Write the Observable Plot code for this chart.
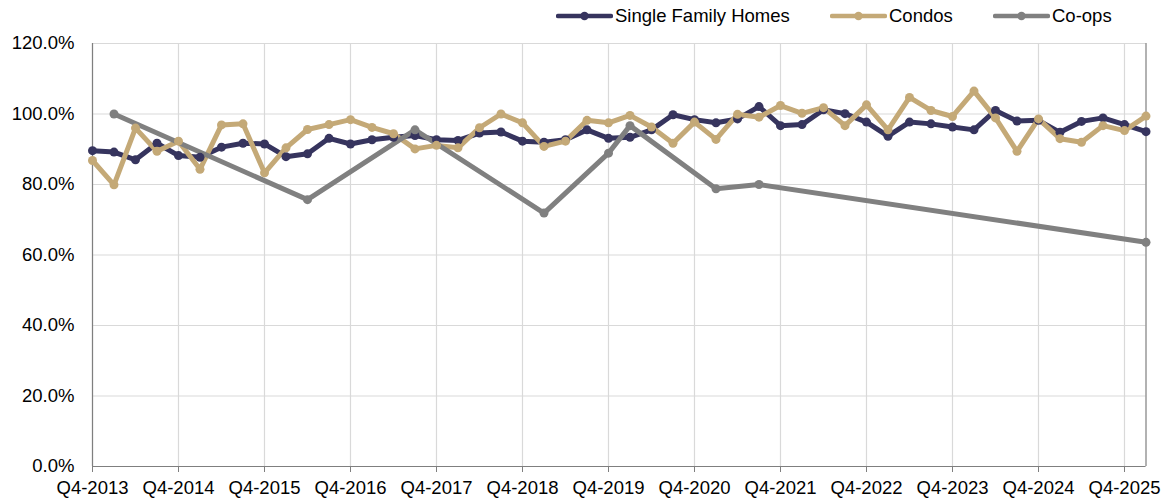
<!DOCTYPE html>
<html>
<head>
<meta charset="utf-8">
<script src="https://cdn.jsdelivr.net/npm/d3@7"></script>
<script src="https://cdn.jsdelivr.net/npm/@observablehq/plot@0.6"></script>
<style>
  html, body { margin: 0; padding: 0; background: #fff; }
  body { width: 1161px; height: 501px; overflow: hidden; font-family: "Liberation Sans", Arial, sans-serif; }
  #legend { position: relative; height: 30px; width: 1161px; font-size: 18.5px; color: #000; }
  .item { position: absolute; top: 5px; height: 22px; display: flex; align-items: center; white-space: nowrap; }
  .item svg { display: block; margin-right: 2px; }
</style>
</head>
<body>
<div id="legend"></div>
<div id="chart"></div>
<script>
const quarters = [
  "Q4-2013","Q1-2014","Q2-2014","Q3-2014","Q4-2014","Q1-2015","Q2-2015","Q3-2015","Q4-2015","Q1-2016",
  "Q2-2016","Q3-2016","Q4-2016","Q1-2017","Q2-2017","Q3-2017","Q4-2017","Q1-2018","Q2-2018","Q3-2018",
  "Q4-2018","Q1-2019","Q2-2019","Q3-2019","Q4-2019","Q1-2020","Q2-2020","Q3-2020","Q4-2020","Q1-2021",
  "Q2-2021","Q3-2021","Q4-2021","Q1-2022","Q2-2022","Q3-2022","Q4-2022","Q1-2023","Q2-2023","Q3-2023",
  "Q4-2023","Q1-2024","Q2-2024","Q3-2024","Q4-2024","Q1-2025","Q2-2025","Q3-2025","Q4-2025","Q1-2026"
];
const tickLabels = ["Q4-2013","Q4-2014","Q4-2015","Q4-2016","Q4-2017","Q4-2018","Q4-2019","Q4-2020","Q4-2021","Q4-2022","Q4-2023","Q4-2024","Q4-2025"];
const yTicks = [0, 20, 40, 60, 80, 100, 120];

const singleFamily = [
  89.6, 89.2, 87.0, 91.7, 88.2, 87.7, 90.6, 91.7, 91.5, 87.9,
  88.7, 93.1, 91.5, 92.7, 93.4, 93.9, 92.7, 92.5, 94.6, 94.9,
  92.3, 92.0, 92.7, 95.5, 93.1, 93.4, 95.5, 99.8, 98.4, 97.5,
  98.6, 102.1, 96.7, 97.0, 101.2, 100.1, 97.7, 93.7, 97.7, 97.2,
  96.3, 95.5, 101.0, 98.0, 98.2, 94.8, 97.9, 98.9, 97.0, 95.0
];
const condos = [
  86.8, 79.9, 96.0, 89.4, 92.3, 84.3, 96.9, 97.2, 83.3, 90.4,
  95.6, 97.0, 98.4, 96.2, 94.4, 90.1, 91.1, 90.4, 96.1, 100.0,
  97.5, 90.8, 92.3, 98.2, 97.5, 99.6, 96.3, 91.7, 97.7, 92.8,
  99.9, 99.1, 102.4, 100.2, 101.8, 96.7, 102.6, 95.5, 104.7, 101.0,
  99.3, 106.5, 98.9, 89.4, 98.6, 93.0, 92.0, 96.7, 95.3, 99.4
];
const coops = [
  null, 100.0, null, null, null, null, null, null, null, null,
  75.7, null, null, null, null, 95.5, null, null, null, null,
  null, 71.9, null, null, 88.9, 96.7, null, null, null, 78.8,
  null, 80.0, null, null, null, null, null, null, null, null,
  null, null, null, null, null, null, null, null, null, 63.6
];

const seriesNames = ["Single Family Homes", "Condos", "Co-ops"];
const seriesColors = ["#36345e", "#c4a977", "#808080"];
const seriesValues = [singleFamily, condos, coops];

const rows = [];
seriesValues.forEach((vals, s) => {
  vals.forEach((v, i) => {
    if (v != null) rows.push({series: seriesNames[s], idx: i, quarter: quarters[i], value: v});
  });
});
const tickIdx = tickLabels.map(t => quarters.indexOf(t));
const lastIdx = quarters.length - 1;

// Legend
const legend = document.getElementById("legend");
const legendX = [556, 830, 993];
seriesNames.forEach((name, s) => {
  const d = document.createElement("div");
  d.className = "item";
  d.style.left = legendX[s] + "px";
  d.innerHTML = `<svg width="57" height="12"><line x1="2" y1="6" x2="55" y2="6" stroke="${seriesColors[s]}" stroke-width="4.5" stroke-linecap="round"/><circle cx="28.5" cy="6" r="4.2" fill="${seriesColors[s]}"/></svg><span>${name}</span>`;
  legend.appendChild(d);
});

const chart = Plot.plot({
  width: 1161,
  height: 471,
  marginLeft: 92,
  marginRight: 15.5,
  marginTop: 13,
  marginBottom: 35,
  style: {fontFamily: "'Liberation Sans', Arial, sans-serif", fontSize: "18.5px", color: "#000", background: "#fff"},
  x: {type: "linear", domain: [0, lastIdx], range: [92, 1145.5]},
  y: {domain: [0, 120]},
  color: {domain: seriesNames, range: seriesColors},
  marks: [
    Plot.gridY(yTicks, {stroke: "#d9d9d9", strokeOpacity: 1, strokeWidth: 1.2}),
    Plot.gridX(tickIdx, {stroke: "#d9d9d9", strokeOpacity: 1, strokeWidth: 1.2}),
    Plot.ruleX([lastIdx], {stroke: "#7f7f7f", strokeWidth: 1.2}),
    Plot.ruleY([0], {stroke: "#7f7f7f", strokeWidth: 1.2}),
    Plot.ruleX([0], {stroke: "#7f7f7f", strokeWidth: 1.2}),
    Plot.axisX(tickIdx, {tickSize: 6, tickPadding: 8, stroke: "#7f7f7f", fill: "#000", fontSize: 18.5, label: null, tickFormat: i => quarters[i]}),
    Plot.axisY(yTicks, {tickSize: 0, tickPadding: 18, tickFormat: d => d.toFixed(1) + "%", fill: "#000", fontSize: 18.5, label: null}),
    Plot.line(rows, {x: "idx", y: "value", z: "series", stroke: "series", strokeWidth: 5, strokeLinejoin: "round", strokeLinecap: "round"}),
    Plot.dot(rows, {x: "idx", y: "value", fill: "series", r: 4.5})
  ]
});
document.getElementById("chart").appendChild(chart);
</script>
</body>
</html>
